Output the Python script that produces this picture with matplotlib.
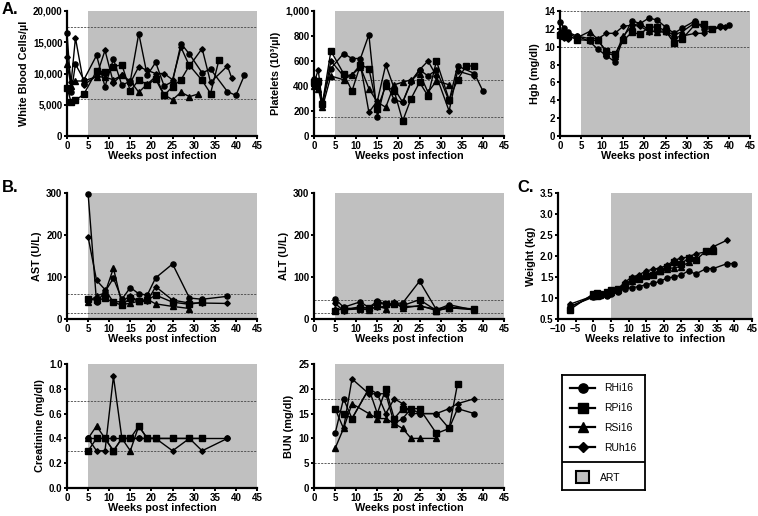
import matplotlib
matplotlib.use("Agg")
import matplotlib.pyplot as plt
from matplotlib.lines import Line2D
from matplotlib.patches import Patch
from matplotlib.ticker import FuncFormatter

plt.rcParams['font.family'] = ['Liberation Sans', 'DejaVu Sans']
plt.rcParams['font.weight'] = 'bold'

animals = ["RHi16", "RPi16", "RSi16", "RUh16"]
markers = ["o", "s", "^", "D"]
msizes = [3.7, 3.7, 4.0, 2.8]

# ---------------- WBC ----------------
wbc_x = {
    "RHi16": [0, 1, 2, 4, 7, 9, 11, 13, 15, 17, 19, 21, 23, 25, 27, 29, 32, 34, 38, 40, 42],
    "RPi16": [0, 1, 2, 4, 7, 9, 11, 13, 15, 17, 19, 21, 23, 25, 27, 29, 32, 34, 36],
    "RSi16": [0, 1, 2, 4, 7, 9, 11, 13, 15, 17, 19, 21, 23, 25, 27, 29, 31],
    "RUh16": [0, 1, 2, 4, 7, 9, 11, 13, 15, 17, 19, 21, 23, 25, 27, 29, 32, 34, 38, 39],
}
wbc_y = {
    "RHi16": [16500, 7000, 11500, 9000, 12900, 7900, 12300, 8100, 8800, 16400, 9700, 11800, 8000, 8700, 14800, 13100, 10100, 10700, 7100, 6500, 9700],
    "RPi16": [7700, 5400, 5700, 6700, 10400, 10200, 11100, 11400, 7200, 9000, 8200, 9100, 6500, 7900, 9000, 11300, 8900, 6800, 12200],
    "RSi16": [11500, 8000, 8800, 8800, 9500, 9400, 9000, 9700, 8800, 7000, 8300, 9500, 6600, 5800, 7000, 6300, 6700],
    "RUh16": [12600, 8700, 15700, 8200, 9600, 13700, 8500, 9800, 8500, 11100, 10500, 10000, 10000, 9000, 14200, 11200, 14000, 8600, 11200, 9300],
}
# ---------------- Platelets ----------------
plt_x = {
    "RHi16": [0, 1, 2, 4, 7, 9, 11, 13, 15, 17, 19, 21, 23, 25, 27, 29, 32, 34, 38, 40],
    "RPi16": [0, 1, 2, 4, 7, 9, 11, 13, 15, 17, 19, 21, 23, 25, 27, 29, 32, 34, 36, 38],
    "RSi16": [0, 1, 2, 4, 7, 9, 11, 13, 15, 17, 19, 21, 23, 25, 27, 29, 32],
    "RUh16": [0, 1, 2, 4, 7, 9, 11, 13, 15, 17, 19, 21, 23, 25, 27, 29, 32, 34, 38],
}
plt_y = {
    "RHi16": [460, 420, 270, 540, 660, 620, 620, 810, 150, 430, 290, 270, 440, 530, 480, 530, 280, 560, 500, 360],
    "RPi16": [430, 440, 260, 680, 500, 360, 570, 540, 220, 400, 360, 120, 300, 430, 320, 600, 290, 450, 560, 560],
    "RSi16": [400, 380, 230, 480, 450, 490, 550, 380, 270, 230, 410, 430, 450, 500, 350, 440, 410],
    "RUh16": [420, 530, 250, 600, 480, 490, 570, 190, 280, 570, 380, 270, 430, 530, 600, 480, 200, 520, 480],
}
# ---------------- Hgb ----------------
hgb_x = {
    "RHi16": [0, 1, 2, 4, 7, 9, 11, 13, 15, 17, 19, 21, 23, 25, 27, 29, 32, 34, 36, 38, 40],
    "RPi16": [0, 1, 2, 4, 7, 9, 11, 13, 15, 17, 19, 21, 23, 25, 27, 29, 32, 34, 36],
    "RSi16": [0, 1, 2, 4, 7, 9, 11, 13, 15, 17, 19, 21, 23, 25, 27, 29, 32],
    "RUh16": [0, 1, 2, 4, 7, 9, 11, 13, 15, 17, 19, 21, 23, 25, 27, 29, 32, 34, 38, 39],
}
hgb_y = {
    "RHi16": [12.8, 12.1, 11.6, 11.2, 10.6, 9.7, 9.0, 8.3, 11.0, 12.9, 12.6, 13.2, 13.0, 12.2, 11.5, 12.1, 12.9, 12.0, 12.0, 12.3, 12.4],
    "RPi16": [11.3, 11.5, 11.2, 10.8, 10.7, 10.7, 9.5, 9.2, 10.7, 11.6, 11.4, 12.2, 12.2, 11.8, 10.4, 10.9, 12.5, 12.5, 12.0],
    "RSi16": [11.8, 11.2, 11.5, 11.0, 11.7, 10.8, 9.3, 9.0, 11.2, 12.3, 12.7, 11.8, 11.7, 11.8, 11.3, 11.7, 12.7],
    "RUh16": [11.2, 11.0, 10.9, 11.2, 10.9, 10.9, 11.5, 11.5, 12.3, 12.4, 12.3, 11.7, 11.7, 11.6, 11.0, 11.2, 11.5, 11.5, 12.2, 12.2],
}
# ---------------- AST ----------------
ast_x = {
    "RHi16": [5, 7, 9, 11, 13, 15, 17, 19, 21, 25, 29, 32, 38],
    "RPi16": [5, 7, 9, 11, 13, 15, 17, 19, 21, 25, 29, 32],
    "RSi16": [5, 7, 9, 11, 13, 15, 17, 19, 21, 25, 29],
    "RUh16": [5, 7, 9, 11, 13, 15, 17, 19, 21, 25, 29, 32, 38],
}
ast_y = {
    "RHi16": [298, 40, 65, 97, 47, 75, 60, 57, 98, 131, 50, 47, 54],
    "RPi16": [47, 45, 49, 40, 33, 50, 42, 45, 57, 40, 35, 40],
    "RSi16": [40, 55, 62, 121, 35, 37, 43, 47, 36, 30, 25],
    "RUh16": [195, 92, 70, 40, 42, 55, 42, 42, 77, 45, 38, 38, 37],
}
# ---------------- ALT ----------------
alt_x = {
    "RHi16": [5, 7, 11, 13, 15, 17, 19, 21, 25, 29, 32, 38],
    "RPi16": [5, 7, 11, 13, 15, 17, 19, 21, 25, 29, 32, 38],
    "RSi16": [5, 7, 11, 13, 15, 17, 19, 21, 25, 29, 32, 38],
    "RUh16": [5, 7, 11, 13, 15, 17, 19, 21, 25, 29, 32, 38],
}
alt_y = {
    "RHi16": [48, 28, 41, 27, 43, 35, 37, 38, 90, 22, 34, 21],
    "RPi16": [20, 25, 26, 27, 38, 35, 35, 32, 46, 20, 26, 24],
    "RSi16": [24, 22, 24, 22, 30, 25, 40, 26, 32, 20, 27, 22],
    "RUh16": [37, 20, 30, 24, 28, 30, 37, 30, 30, 24, 28, 24],
}
# ---------------- Weight ----------------
wt_x = {
    "RHi16": [-6.7, 0, 1, 2, 4, 5, 7, 9, 11, 13, 15, 17, 19, 21, 23, 25, 27, 29, 32, 34, 38, 40],
    "RPi16": [-6.7, 0, 1, 2, 4, 5, 7, 9, 11, 13, 15, 17, 19, 21, 23, 25, 27, 29, 32, 34],
    "RSi16": [-6.7, 0, 1, 2, 4, 5, 7, 9, 11, 13, 15, 17, 19, 21, 23, 25, 27, 29],
    "RUh16": [-6.7, 0, 1, 2, 4, 5, 7, 9, 11, 13, 15, 17, 19, 21, 23, 25, 27, 29, 32, 34, 38],
}
wt_y = {
    "RHi16": [0.80, 1.02, 1.05, 1.05, 1.05, 1.10, 1.15, 1.22, 1.25, 1.27, 1.32, 1.35, 1.40, 1.48, 1.50, 1.55, 1.65, 1.57, 1.70, 1.70, 1.82, 1.82],
    "RPi16": [0.72, 1.10, 1.12, 1.10, 1.15, 1.18, 1.22, 1.32, 1.45, 1.45, 1.52, 1.55, 1.65, 1.75, 1.85, 1.82, 1.95, 1.90, 2.12, 2.12],
    "RSi16": [0.78, 1.05, 1.05, 1.08, 1.10, 1.15, 1.20, 1.30, 1.40, 1.48, 1.55, 1.60, 1.65, 1.70, 1.72, 1.75, 1.85, 1.95],
    "RUh16": [0.85, 1.05, 1.08, 1.08, 1.12, 1.15, 1.22, 1.38, 1.50, 1.55, 1.65, 1.68, 1.72, 1.78, 1.90, 1.95, 1.98, 2.05, 2.10, 2.22, 2.38],
}
# ---------------- Creatinine ----------------
cr_x = {
    "RHi16": [5, 7, 9, 11, 13, 15, 17, 19, 21, 25, 29, 32, 38],
    "RPi16": [5, 7, 9, 11, 13, 15, 17, 19, 21, 25, 29, 32],
    "RSi16": [5, 7, 9, 11, 13, 15, 17, 19, 21],
    "RUh16": [5, 7, 9, 11, 13, 15, 17, 19, 21, 25, 29, 32, 38],
}
cr_y = {
    "RHi16": [0.4] * 13,
    "RPi16": [0.3, 0.4, 0.4, 0.3, 0.4, 0.4, 0.5, 0.4, 0.4, 0.4, 0.4, 0.4],
    "RSi16": [0.4, 0.5, 0.4, 0.3, 0.4, 0.3, 0.5, 0.4, 0.4],
    "RUh16": [0.4, 0.3, 0.3, 0.9, 0.4, 0.4, 0.4, 0.4, 0.4, 0.3, 0.4, 0.3, 0.4],
}
# ---------------- BUN ----------------
bun_x = {
    "RHi16": [5, 7, 9, 13, 15, 17, 19, 21, 23, 25, 29, 32, 34, 38],
    "RPi16": [5, 7, 9, 13, 15, 17, 19, 21, 23, 25, 29, 32, 34],
    "RSi16": [5, 7, 9, 13, 15, 17, 19, 21, 23, 25, 29],
    "RUh16": [5, 7, 9, 13, 15, 17, 19, 21, 23, 25, 29, 32, 34, 38],
}
bun_y = {
    "RHi16": [11, 18, 14, 20, 19, 19, 13, 14, 16, 15, 15, 12, 16, 15],
    "RPi16": [16, 15, 14, 20, 15, 20, 14, 16, 16, 16, 11, 12, 21],
    "RSi16": [8, 12, 17, 15, 14, 14, 13, 12, 10, 10, 10],
    "RUh16": [16, 12, 22, 19, 19, 15, 18, 17, 15, 15, 15, 16, 17, 18],
}

W, H = 758, 516
fig = plt.figure(figsize=(W / 100, H / 100), dpi=100)
GRAY = "#c0c0c0"


def box(l, t, r, b):
    return [l / W, 1 - b / H, (r - l) / W, (b - t) / H]


def panel(rect, xs, ys, ylim, yticks, ylabel, reflines, xlim=(0, 45), xlabel="Weeks post infection",
          yfmt=None, xticks=None):
    ax = fig.add_axes(rect)
    ax.axvspan(5, 45, color=GRAY, lw=0, zorder=0)
    for r in reflines:
        ax.axhline(r, color="#444444", lw=0.6, ls=(0, (2.5, 1.5)), zorder=1)
    for a, m, ms in zip(animals, markers, msizes):
        ax.plot(xs[a], ys[a], color="black", lw=1.0, marker=m, ms=ms, zorder=3, clip_on=False)
    ax.set_xlim(*xlim)
    ax.set_ylim(*ylim)
    ax.set_yticks(yticks)
    if xticks is None:
        xticks = list(range(0, 46, 5))
    ax.set_xticks(xticks)
    if yfmt is not None:
        ax.yaxis.set_major_formatter(FuncFormatter(yfmt))
    for s in ["top", "right"]:
        ax.spines[s].set_visible(False)
    for s in ["left", "bottom"]:
        ax.spines[s].set_linewidth(1.6)
    ax.tick_params(axis="both", direction="out", length=2.5, width=1.4, labelsize=7, pad=0.8)
    for lab in ax.get_xticklabels() + ax.get_yticklabels():
        lab.set_fontweight("bold")
    ax.set_xlabel(xlabel, fontsize=7.8, fontweight="bold", labelpad=0)
    ax.set_ylabel(ylabel, fontsize=7.8, fontweight="bold", labelpad=3)
    return ax


comma = lambda v, p: f"{int(v):,}"
one = lambda v, p: f"{v:.1f}"

panel(box(67, 11, 257, 136), wbc_x, wbc_y, (0, 20000), range(0, 20001, 5000),
      "White Blood Cells/µl", [6000, 17500], yfmt=comma)
panel(box(314, 11, 504, 136), plt_x, plt_y, (0, 1000), range(0, 1001, 200),
      "Platelets (10³/µl)", [150, 450], yfmt=comma)
panel(box(560, 11, 750, 136), hgb_x, hgb_y, (0, 14), range(0, 15, 2),
      "Hgb (mg/dl)", [10, 14])
panel(box(67, 193, 257, 319), ast_x, ast_y, (0, 300), range(0, 301, 100),
      "AST (U/L)", [15, 60])
panel(box(314, 193, 504, 319), alt_x, alt_y, (0, 300), range(0, 301, 100),
      "ALT (U/L)", [14, 46])
panel(box(558, 193, 752, 319), wt_x, wt_y, (0.5, 3.5), [0.5, 1.0, 1.5, 2.0, 2.5, 3.0, 3.5],
      "Weight (kg)", [], xlim=(-10, 45), xlabel="Weeks relative to  infection", yfmt=one,
      xticks=list(range(-10, 46, 5)))
panel(box(67, 364, 257, 488), cr_x, cr_y, (0, 1.0), [0, 0.2, 0.4, 0.6, 0.8, 1.0],
      "Creatinine (mg/dl)", [0.3, 0.7], yfmt=one)
panel(box(314, 364, 504, 488), bun_x, bun_y, (0, 25), range(0, 26, 5),
      "BUN (mg/dl)", [5, 18])

# panel letters
fig.text(2 / W, 1 - 2 / H, "A.", fontsize=12, fontweight="bold", va="top", ha="left")
fig.text(2 / W, 1 - 180 / H, "B.", fontsize=12, fontweight="bold", va="top", ha="left")
fig.text(517 / W, 1 - 180 / H, "C.", fontsize=12, fontweight="bold", va="top", ha="left")

# legend box
lax = fig.add_axes(box(562, 375, 645, 490))
lax.set_xticks([])
lax.set_yticks([])
for s in lax.spines.values():
    s.set_linewidth(1.3)
lax.axhline(1 - (462 - 375) / (490 - 375), color="black", lw=1.3)
handles = [Line2D([], [], color="black", lw=1.6, marker=m, ms=ms * 1.8, label=a)
           for a, m, ms in zip(animals, markers, msizes)]
leg1 = lax.legend(handles=handles, loc="upper left", bbox_to_anchor=(0.0, 1.0), frameon=False,
                  prop={"size": 7.5, "weight": "normal"}, handlelength=2.4, labelspacing=0.95,
                  handletextpad=0.8, borderaxespad=0.4)
lax.add_artist(leg1)
art = Patch(facecolor=GRAY, edgecolor="black", lw=1.5, label="ART")
lax.legend(handles=[art], loc="lower left", bbox_to_anchor=(0.08, 0.0), frameon=False,
           prop={"size": 7.5, "weight": "normal"}, handlelength=1.3, handleheight=1.3,
           handletextpad=1.0, borderaxespad=0.3)

fig.savefig("out.png", dpi=100)
